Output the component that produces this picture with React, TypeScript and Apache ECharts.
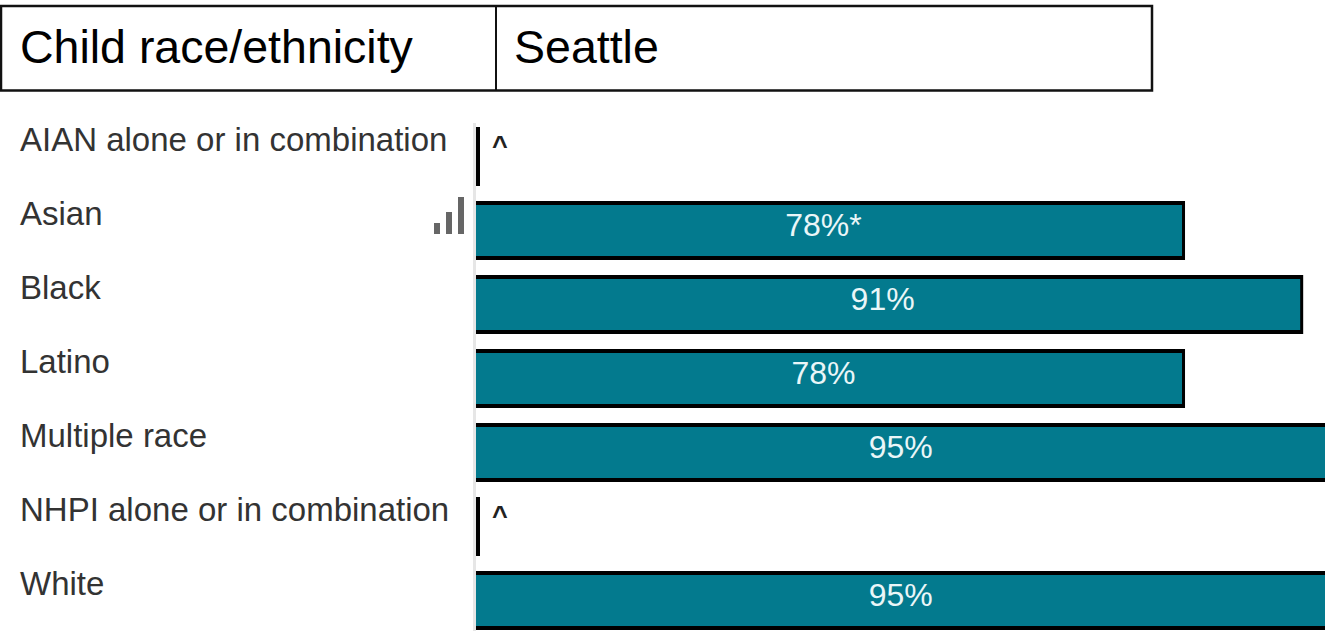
import React, { useEffect, useRef } from "react";
import * as echarts from "echarts";

const categories = [
  "AIAN alone or in combination",
  "Asian",
  "Black",
  "Latino",
  "Multiple race",
  "NHPI alone or in combination",
  "White",
];
const values = [0, 78, 91, 78, 95, 0, 95];
const valueLabels = ["^", "78%*", "91%", "78%", "95%", "^", "95%"];
const headerLeft = "Child race/ethnicity";
const headerRight = "Seattle";

const TEAL = "#037A8E";
const BAR_H = 59;

function renderBar(params: any, api: any) {
  const idx = api.value(1) as number;
  const end = api.coord([api.value(0), idx]);
  const start = api.coord([0, idx]);
  const w = Math.max(end[0] - start[0], 4);
  const top = end[1] - BAR_H / 2;
  const txt = valueLabels[params.dataIndex];
  const children: any[] = [
    { type: "rect", shape: { x: start[0], y: top, width: w, height: BAR_H }, style: { fill: "#000" } },
  ];
  if (w > 4) {
    children.push({
      type: "rect",
      shape: { x: start[0], y: top + 4, width: w - 3, height: BAR_H - 8 },
      style: { fill: TEAL },
    });
    children.push({
      type: "text",
      x: start[0] + w / 2 - 7,
      y: end[1] - 6,
      style: {
        text: txt,
        fill: "#EAF6F8",
        font: "32px 'Liberation Sans'",
        align: "center",
        verticalAlign: "middle",
      },
    });
  } else {
    children.push({
      type: "text",
      x: start[0] + 24,
      y: end[1] - 11,
      style: {
        text: txt,
        fill: "#222",
        font: "bold 27px 'Liberation Sans'",
        align: "center",
        verticalAlign: "middle",
      },
    });
  }
  return { type: "group", children };
}

export default function App() {
  const ref = useRef<HTMLDivElement>(null);
  useEffect(() => {
    document.body.style.margin = "0";
    document.body.style.overflow = "hidden";
    const chart = echarts.init(ref.current!, undefined, { renderer: "svg" });
    chart.setOption({
      animation: false,
      backgroundColor: "#fff",
      grid: { left: 476, top: 119.5, width: 909, height: 518, containLabel: false, outerBoundsMode: "none" },
      xAxis: { type: "value", min: 0, max: 100, show: false },
      yAxis: {
        type: "category",
        inverse: true,
        data: categories,
        axisLine: { show: false },
        axisTick: { show: false },
        splitLine: { show: false },
        axisLabel: {
          align: "left",
          verticalAlign: "bottom",
          lineHeight: 34,
          margin: 456,
          color: "#333",
          fontFamily: "'Liberation Sans'",
          fontSize: 33,
        },
      },
      series: [
        {
          type: "custom",
          clip: false,
          renderItem: renderBar,
          encode: { x: 0, y: 1 },
          data: values.map((v, i) => [v, i]),
        },
      ],
      graphic: [
        { type: "rect", shape: { x: 473, y: 123, width: 3, height: 508 }, style: { fill: "#E6E6E6" } },
        { type: "rect", shape: { x: 1, y: 6, width: 1151, height: 84.5 }, style: { fill: "none", stroke: "#111", lineWidth: 2.5 } },
        { type: "line", shape: { x1: 496, y1: 6, x2: 496, y2: 90 }, style: { stroke: "#111", lineWidth: 2 } },
        { type: "text", x: 20, y: 47, style: { text: headerLeft, fill: "#000", font: "46.5px 'Liberation Sans'", verticalAlign: "middle" } },
        { type: "text", x: 514, y: 47, style: { text: headerRight, fill: "#000", font: "46.5px 'Liberation Sans'", verticalAlign: "middle" } },
        { type: "rect", shape: { x: 434, y: 223, width: 6, height: 11 }, style: { fill: "#666" } },
        { type: "rect", shape: { x: 446, y: 212, width: 6, height: 22 }, style: { fill: "#666" } },
        { type: "rect", shape: { x: 458, y: 197, width: 6, height: 37 }, style: { fill: "#666" } },
      ],
    });
    return () => chart.dispose();
  }, []);
  return <div ref={ref} style={{ width: 1325, height: 631 }} />;
}
